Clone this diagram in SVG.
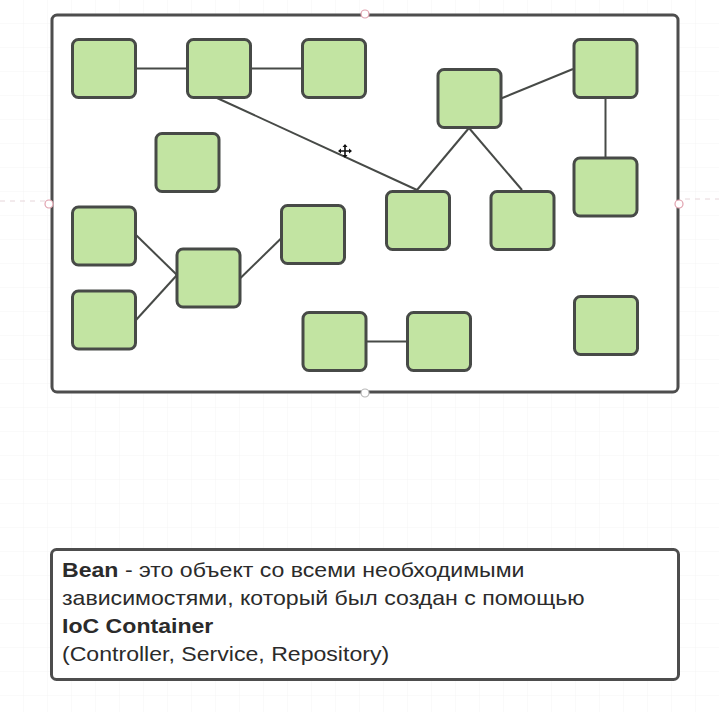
<svg xmlns="http://www.w3.org/2000/svg" width="719" height="712" viewBox="0 0 719 712">
<defs>
<pattern id="grid" width="24" height="24" patternUnits="userSpaceOnUse" x="0" y="0">
<path d="M24 0V24M0 24H24" fill="none" stroke="#f4f4f4" stroke-width="1"/>
</pattern>
</defs>
<style>
.node{fill:#c2e4a2;stroke:#474a47;stroke-width:3}
.edge{stroke:#474a47;stroke-width:2;fill:none}
.frame{fill:#fff;stroke:#4d4d4d;stroke-width:3}
.handle{fill:#fff;stroke:#e0a0ad;stroke-width:1.2}
.dash{stroke:#e6d6da;stroke-width:1;stroke-dasharray:5 5}
.t{font-family:"Liberation Sans",Arial,sans-serif;font-size:20px;fill:#2b2b2b}
.b{font-weight:bold}
</style>
<rect width="719" height="712" fill="#fff"/>
<rect width="719" height="712" fill="url(#grid)"/>
<line class="dash" x1="0" y1="201" x2="45" y2="201"/>
<line class="dash" x1="685" y1="199" x2="719" y2="199"/>
<rect id="container" class="frame" x="52" y="15" width="626" height="377" rx="5"/>
<g id="connectors">
<line class="edge" x1="136" y1="68.5" x2="187" y2="68.5"/>
<line class="edge" x1="250" y1="68.5" x2="302" y2="68.5"/>
<line class="edge" x1="217" y1="98" x2="417" y2="190"/>
<line class="edge" x1="469" y1="128" x2="417" y2="190"/>
<line class="edge" x1="469" y1="128" x2="522" y2="190"/>
<line class="edge" x1="501" y1="98.5" x2="573" y2="69"/>
<line class="edge" x1="605.5" y1="98" x2="605.5" y2="158"/>
<line class="edge" x1="136" y1="235" x2="177" y2="275"/>
<line class="edge" x1="136" y1="320" x2="177" y2="275"/>
<line class="edge" x1="240.5" y1="278" x2="281.5" y2="238"/>
<line class="edge" x1="366" y1="341.5" x2="407" y2="341.5"/>
</g>
<g id="n1"><rect class="node" x="72.5" y="39.5" width="63" height="58" rx="6"/></g>
<g id="n2"><rect class="node" x="187.5" y="39.5" width="63" height="58" rx="6"/></g>
<g id="n3"><rect class="node" x="302.5" y="39.5" width="63" height="58" rx="6"/></g>
<g id="n4"><rect class="node" x="156" y="133.5" width="63" height="58" rx="6"/></g>
<g id="n5"><rect class="node" x="438" y="69.5" width="63" height="58" rx="6"/></g>
<g id="n6"><rect class="node" x="574" y="39.5" width="63" height="58" rx="6"/></g>
<g id="n7"><rect class="node" x="574" y="158" width="63" height="58" rx="6"/></g>
<g id="n8"><rect class="node" x="386.5" y="191.5" width="63" height="58" rx="6"/></g>
<g id="n9"><rect class="node" x="491" y="191.5" width="63" height="58" rx="6"/></g>
<g id="n10"><rect class="node" x="72.5" y="207" width="63" height="58" rx="6"/></g>
<g id="n11"><rect class="node" x="72.5" y="291" width="63" height="58" rx="6"/></g>
<g id="n12"><rect class="node" x="177" y="249" width="63" height="58" rx="6"/></g>
<g id="n13"><rect class="node" x="281.5" y="205.5" width="63" height="58" rx="6"/></g>
<g id="n14"><rect class="node" x="303" y="312.5" width="63" height="58" rx="6"/></g>
<g id="n15"><rect class="node" x="407.5" y="312.5" width="63" height="58" rx="6"/></g>
<g id="n16"><rect class="node" x="574.5" y="296.5" width="63" height="58" rx="6"/></g>
<g id="handles">
<circle class="handle" cx="365" cy="14" r="4"/>
<circle class="handle" cx="49" cy="204" r="4"/>
<circle class="handle" cx="679" cy="204" r="4"/>
<circle cx="365" cy="393" r="4" fill="#fff" stroke="#b8b8b8" stroke-width="1.2"/>
</g>
<g id="cursor" fill="#111" stroke="#111">
<path d="M339 151H351M345 145V157" stroke-width="1.6"/>
<path d="M345 144l-2.5 3h5zM345 158l-2.5 -3h5zM338 151l3 -2.5v5zM352 151l-3 -2.5v5z" stroke="none"/>
</g>
<g id="note">
<rect class="frame" x="51.5" y="549.5" width="627" height="130" rx="5"/>
<g transform="translate(62,0) scale(1.155,1)">
<text class="t" x="0" y="577"><tspan class="b">Bean</tspan> - это объект со всеми необходимыми</text>
<text class="t" x="0" y="605">зависимостями, который был создан с помощью</text>
<text class="t b" x="0" y="633">IoC Container</text>
<text class="t" x="0" y="661">(Controller, Service, Repository)</text>
</g>
</g>
</svg>
